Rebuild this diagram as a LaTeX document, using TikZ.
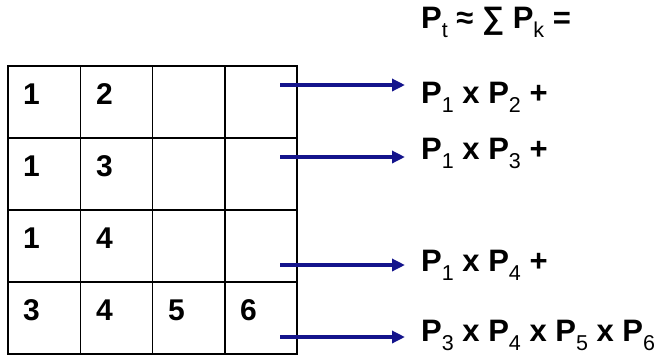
\documentclass[tikz,border=0pt]{standalone}
\usepackage{fontspec}
\setmainfont{Liberation Sans}
\usetikzlibrary{arrows.meta}
\definecolor{arrowblue}{RGB}{20,20,140}
\newcommand{\sbs}[1]{\raisebox{-0.3em}{\fontsize{21.5}{21.5}\selectfont\mdseries #1}}
\begin{document}
\begin{tikzpicture}[x=1pt,y=-1pt,
  cellbox/.style={draw, line width=1.6pt, minimum width=72.3pt, minimum height=72pt, inner sep=0pt},
  digit/.style={anchor=base west, inner sep=0pt, font=\fontsize{30}{30}\selectfont\bfseries},
  label/.style={anchor=base west, inner sep=0pt, font=\fontsize{31}{31}\selectfont\bfseries},
  conn/.style={draw=arrowblue, line width=3.5pt, -{Triangle[length=13pt,width=12pt]}}]
\useasboundingbox (0,0) rectangle (662,360);
% grid cells
\foreach \r in {1,...,4}{
  \foreach \c in {1,...,4}{
    \node[cellbox] (c-\r-\c) at ({8+72.3*(\c-0.5)},{66+72*(\r-0.5)}) {};
  }
}
% digits
\node[digit] (d-1-1) at (23,104) {1};
\node[digit] (d-1-2) at (96,104) {2};
\node[digit] (d-2-1) at (23,176) {1};
\node[digit] (d-2-2) at (96,176) {3};
\node[digit] (d-3-1) at (23,248) {1};
\node[digit] (d-3-2) at (96,248) {4};
\node[digit] (d-4-1) at (23,320) {3};
\node[digit] (d-4-2) at (96,320) {4};
\node[digit] (d-4-3) at (168,320) {5};
\node[digit] (d-4-4) at (240,320) {6};
% header and labels
\node[label] (hdr) at (421,28) {P\sbs{t} ≈ ∑ P\sbs{k} =};
\node[label] (l1) at (421,103) {P\sbs{1} x P\sbs{2} +};
\node[label] (l2) at (421,159) {P\sbs{1} x P\sbs{3} +};
\node[label] (l3) at (421,271) {P\sbs{1} x P\sbs{4} +};
\node[label] (l4) at (421,341) {P\sbs{3} x P\sbs{4} x P\sbs{5} x P\sbs{6}};
% arrow ends
\coordinate (s1) at (280,85);  \coordinate (e1) at (405,85);
\coordinate (s2) at (280,157); \coordinate (e2) at (405,157);
\coordinate (s3) at (280,265); \coordinate (e3) at (405,265);
\coordinate (s4) at (280,337); \coordinate (e4) at (405,337);
\draw[conn] (s1) -- (e1);
\draw[conn] (s2) -- (e2);
\draw[conn] (s3) -- (e3);
\draw[conn] (s4) -- (e4);
\end{tikzpicture}
\end{document}
